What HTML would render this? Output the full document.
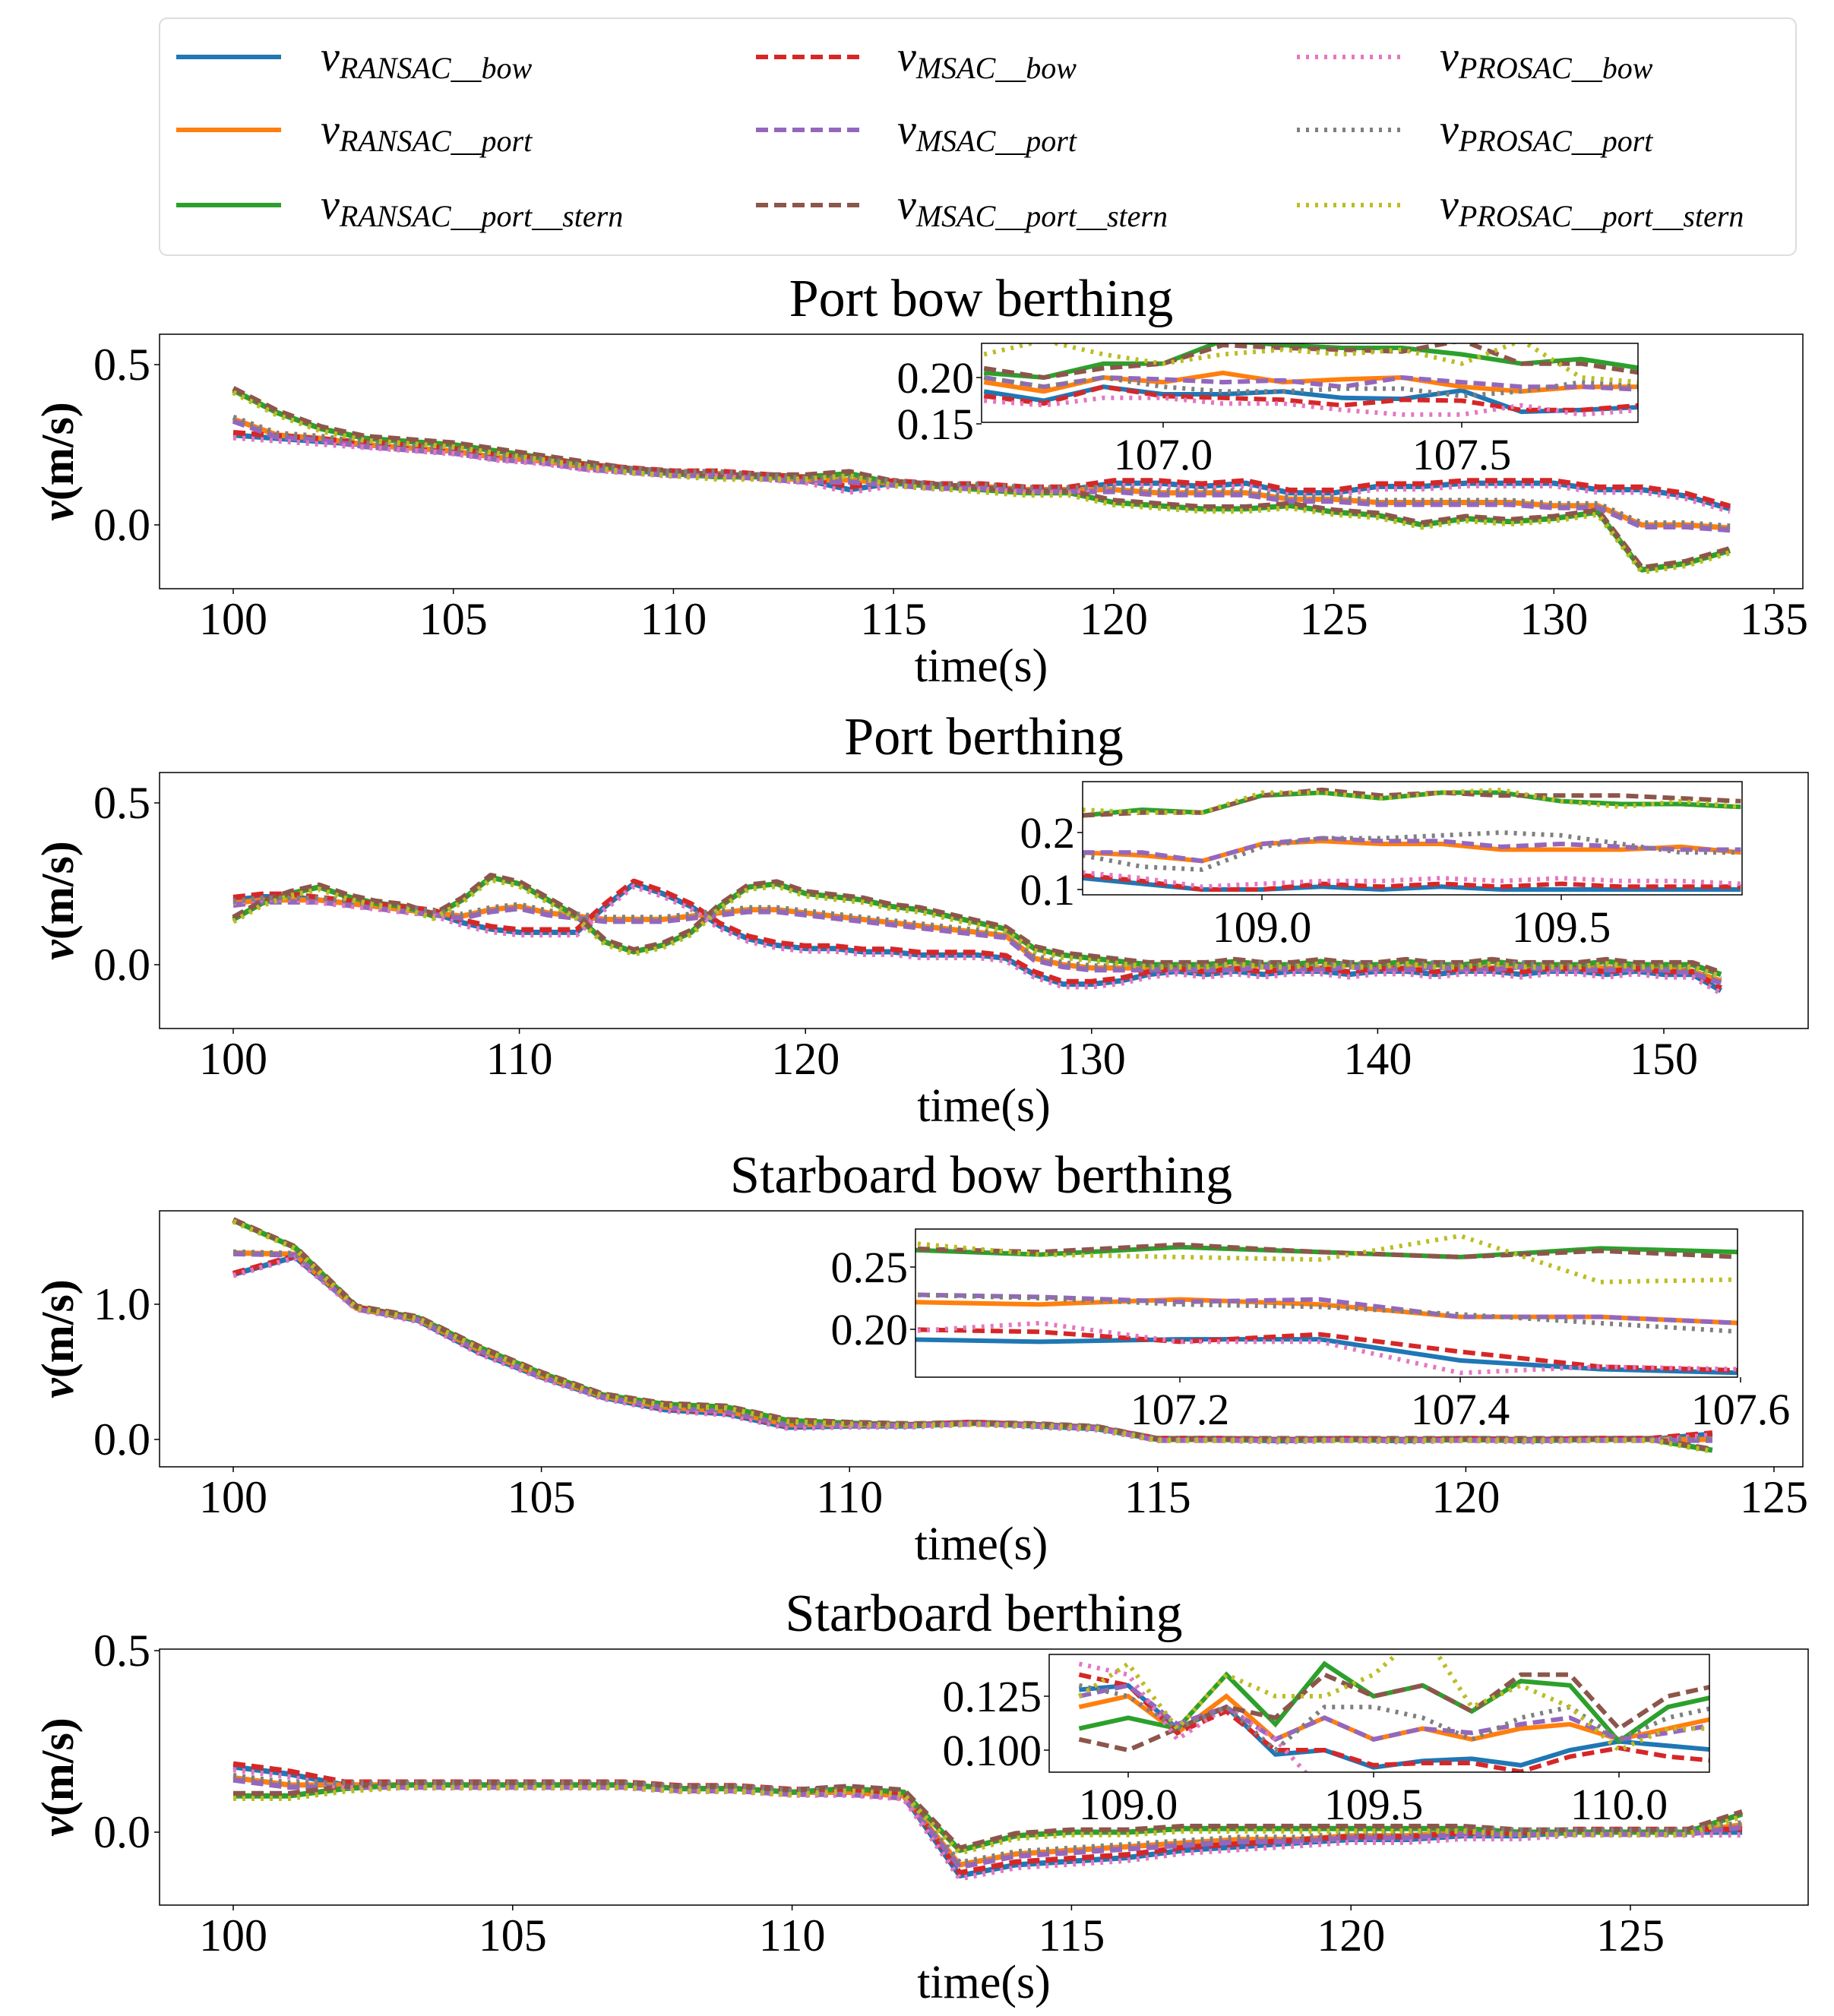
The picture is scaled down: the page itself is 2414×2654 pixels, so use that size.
<!DOCTYPE html>
<html><head><meta charset="utf-8">
<style>
html,body{margin:0;padding:0;background:#fff;}
svg{display:block;font-family:"Liberation Serif",serif;}
</style></head>
<body>
<svg id="fig" width="2414" height="2654" viewBox="0 0 2414 2654" xmlns="http://www.w3.org/2000/svg">
  <rect x="0" y="0" width="2414" height="2654" fill="#fff"/>
  <g>
    <rect x="210" y="24" width="2154" height="312" rx="10" fill="#fff" stroke="#dddddd" stroke-width="2"/>
  </g>
</svg>
<script>
// ---------- data ----------
const seriesNames = ["RANSAC_bow","RANSAC_port","RANSAC_port_stern","MSAC_bow","MSAC_port","MSAC_port_stern","PROSAC_bow","PROSAC_port","PROSAC_port_stern"];
const seriesColors = ["#1f77b4","#ff7f0e","#2ca02c","#d62728","#9467bd","#8c564b","#e377c2","#7f7f7f","#bcbd22"];
const seriesGroup = [0,1,2,0,1,2,0,1,2];
const seriesOffset = [0,0,0,0.008,-0.006,0.006,-0.008,0.006,-0.007];

const p1Start = 100, p1Step = 1;
const p1Bow = [0.28,0.27,0.26,0.25,0.24,0.23,0.21,0.20,0.18,0.17,0.16,0.16,0.15,0.14,0.11,0.13,0.12,0.12,0.11,0.11,0.13,0.13,0.12,0.13,0.10,0.10,0.12,0.12,0.13,0.13,0.13,0.11,0.11,0.09,0.05];
const p1Port = [0.33,0.28,0.27,0.25,0.24,0.23,0.21,0.20,0.18,0.17,0.16,0.16,0.15,0.14,0.14,0.13,0.12,0.12,0.11,0.11,0.11,0.10,0.10,0.10,0.08,0.08,0.07,0.07,0.07,0.07,0.06,0.06,0.00,0.00,-0.01];
const p1Stern = [0.42,0.35,0.30,0.27,0.26,0.25,0.23,0.21,0.19,0.17,0.16,0.15,0.15,0.15,0.16,0.13,0.12,0.11,0.10,0.10,0.07,0.06,0.05,0.05,0.06,0.04,0.03,0.00,0.02,0.01,0.02,0.04,-0.14,-0.12,-0.08];

const p2Start = 100, p2Step = 1;
const p2Bow = [0.20,0.21,0.21,0.20,0.19,0.18,0.17,0.16,0.13,0.11,0.10,0.10,0.10,0.18,0.25,0.22,0.18,0.12,0.08,0.06,0.05,0.05,0.04,0.04,0.03,0.03,0.03,0.02,-0.03,-0.06,-0.06,-0.05,-0.03,-0.02,-0.03,-0.02,-0.03,-0.02,-0.02,-0.03,-0.02,-0.02,-0.03,-0.02,-0.02,-0.03,-0.02,-0.02,-0.03,-0.02,-0.03,-0.03,-0.08];
const p2Port = [0.19,0.20,0.20,0.20,0.19,0.18,0.17,0.16,0.15,0.17,0.18,0.16,0.15,0.14,0.14,0.14,0.15,0.16,0.17,0.17,0.16,0.15,0.14,0.13,0.12,0.11,0.10,0.09,0.02,0.00,-0.01,-0.01,-0.01,-0.01,-0.01,-0.01,0.00,-0.01,-0.01,0.00,-0.01,-0.01,0.00,-0.01,-0.01,0.00,-0.01,-0.01,-0.01,-0.01,-0.01,-0.02,-0.05];
const p2Stern = [0.14,0.19,0.22,0.24,0.21,0.19,0.18,0.15,0.20,0.27,0.25,0.20,0.15,0.07,0.04,0.06,0.10,0.18,0.24,0.25,0.22,0.21,0.20,0.18,0.17,0.15,0.13,0.11,0.05,0.03,0.02,0.01,0.00,0.00,0.00,0.01,0.00,0.00,0.01,0.00,0.00,0.01,0.00,0.00,0.01,0.00,0.00,0.00,0.01,0.00,0.00,0.00,-0.03];

const p3Start = 100, p3Step = 1;
const p3Bow = [1.22,1.35,0.97,0.88,0.64,0.46,0.31,0.22,0.19,0.09,0.10,0.10,0.12,0.10,0.08,0.00,0.00,-0.01,0.00,-0.01,0.00,-0.01,0.00,0.00,0.04];
const p3Port = [1.38,1.37,0.97,0.89,0.66,0.47,0.32,0.24,0.21,0.11,0.11,0.11,0.12,0.11,0.09,0.00,0.00,0.00,0.00,0.00,0.00,0.00,0.00,0.00,0.00];
const p3Stern = [1.62,1.42,0.98,0.90,0.68,0.49,0.33,0.26,0.24,0.14,0.12,0.11,0.12,0.11,0.09,0.00,0.00,0.00,0.00,0.00,0.00,0.00,0.00,0.00,-0.08];

const p4Start = 100, p4Step = 1;
const p4Bow = [0.18,0.16,0.13,0.13,0.13,0.13,0.13,0.13,0.12,0.12,0.11,0.11,0.10,-0.12,-0.09,-0.08,-0.07,-0.05,-0.04,-0.03,-0.02,-0.02,-0.01,-0.01,0.00,0.00,0.00,0.00];
const p4Port = [0.15,0.13,0.13,0.13,0.13,0.13,0.13,0.13,0.12,0.12,0.11,0.11,0.10,-0.09,-0.06,-0.05,-0.04,-0.03,-0.02,-0.02,-0.01,-0.01,0.00,0.00,0.00,0.00,0.00,0.02];
const p4Stern = [0.10,0.10,0.12,0.13,0.13,0.13,0.13,0.13,0.12,0.12,0.11,0.12,0.11,-0.05,-0.01,0.00,0.00,0.01,0.01,0.01,0.01,0.01,0.01,0.00,0.00,0.00,0.00,0.05];

// inset data (one array per series, same order as seriesNames)
const in1Start = 106.7, in1Step = 0.1;
const in1Values = [
 [.185,.175,.19,.182,.182,.185,.178,.177,.186,.163,.165,.168],
 [.195,.185,.2,.195,.205,.195,.198,.2,.19,.185,.19,.19],
 [.205,.2,.215,.215,.24,.235,.232,.232,.225,.215,.22,.21],
 [.18,.172,.19,.18,.178,.176,.17,.176,.175,.165,.165,.17],
 [.2,.19,.2,.198,.195,.197,.19,.2,.195,.19,.19,.187],
 [.21,.2,.21,.215,.235,.232,.23,.228,.24,.215,.215,.205],
 [.175,.17,.178,.178,.172,.172,.165,.16,.16,.17,.16,.165],
 [.2,.19,.2,.19,.185,.185,.188,.188,.18,.185,.195,.19],
 [.225,.24,.225,.215,.225,.23,.225,.23,.215,.24,.2,.195]];
const in2Start = 108.7, in2Step = 0.1;
const in2Values = [
 [.12,.11,.1,.1,.105,.1,.105,.1,.1,.1,.1,.1],
 [.165,.16,.15,.18,.185,.18,.18,.17,.17,.17,.175,.165],
 [.23,.24,.235,.265,.27,.26,.27,.27,.255,.25,.25,.245],
 [.125,.115,.1,.1,.11,.105,.11,.105,.11,.105,.105,.105],
 [.165,.165,.15,.18,.19,.185,.185,.175,.18,.175,.17,.17],
 [.23,.235,.235,.265,.275,.265,.27,.265,.265,.265,.26,.255],
 [.13,.12,.105,.11,.115,.115,.12,.115,.12,.115,.115,.11],
 [.16,.14,.135,.175,.19,.19,.195,.2,.195,.18,.165,.165],
 [.24,.235,.235,.27,.27,.26,.27,.275,.255,.245,.255,.245]];
const in3Start = 107.0, in3Step = 0.1;
const in3Values = [
 [.192,.19,.192,.192,.175,.168,.165],
 [.222,.22,.224,.22,.21,.21,.205],
 [.264,.26,.266,.262,.258,.265,.262],
 [.2,.198,.19,.196,.182,.17,.167],
 [.228,.226,.222,.224,.21,.21,.205],
 [.265,.262,.268,.262,.258,.263,.258],
 [.198,.205,.19,.19,.165,.17,.168],
 [.228,.225,.22,.218,.212,.205,.198],
 [.27,.26,.258,.256,.275,.238,.24]];
const in4Start = 108.9, in4Step = 0.1;
const in4Values = [
 [.128,.13,.11,.12,.098,.1,.092,.095,.096,.093,.1,.104,.102,.1],
 [.12,.125,.108,.125,.105,.115,.105,.11,.105,.11,.112,.105,.11,.115],
 [.11,.115,.11,.135,.112,.14,.125,.13,.118,.132,.13,.104,.12,.125],
 [.135,.13,.108,.118,.1,.1,.093,.094,.094,.09,.097,.101,.097,.095],
 [.125,.13,.112,.12,.105,.115,.105,.11,.108,.112,.115,.105,.108,.112],
 [.105,.1,.11,.12,.115,.135,.125,.13,.118,.135,.135,.11,.125,.13],
 [.14,.135,.105,.12,.105,.08,.08,.08,.075,.07,.07,.08,.065,.06],
 [.13,.125,.11,.12,.1,.12,.12,.115,.105,.115,.12,.105,.115,.12],
 [.125,.14,.11,.135,.125,.125,.135,.155,.12,.13,.12,.1,.11,.11]];

const p1XTicks = [100,105,110,115,120,125,130,135];
const p2XTicks = [100,110,120,130,140,150];
const p3XTicks = [100,105,110,115,120,125];
const p4XTicks = [100,105,110,115,120,125];
const p1YTicks = ["0.0","0.5"];
const p3YTicks = ["0.0","1.0"];
const in1XTicks = ["107.0","107.5"], in1YTicks = ["0.15","0.20"];
const in2XTicks = ["109.0","109.5"], in2YTicks = ["0.1","0.2"];
const in3XTicks = ["107.2","107.4","107.6"], in3YTicks = ["0.20","0.25"];
const in4XTicks = ["109.0","109.5","110.0"], in4YTicks = ["0.100","0.125"];

// ---------- drawing ----------
const NS = "http://www.w3.org/2000/svg";
const svg = document.getElementById("fig");
function mk(tag, attrs, parent){const e=document.createElementNS(NS,tag);for(const k in attrs)e.setAttribute(k,attrs[k]);(parent||svg).appendChild(e);return e;}
const dashFor = i => i<3 ? null : (i<6 ? "16,8" : "4,8");

// legend
const legX=[232,995,1707], legTX=[422,1181,1895], legY=[75,171,270];
seriesNames.forEach((n,i)=>{
  const col=Math.floor(i/3), row=i%3;
  const g=mk("g",{});
  
  
  const ln=mk("line",{x1:legX[col],x2:legX[col]+138,y1:legY[row],y2:legY[row],stroke:seriesColors[i],"stroke-width":6},g);
  if(dashFor(i)) ln.setAttribute("stroke-dasharray",dashFor(i));
  const t=mk("text",{x:legTX[col],y:legY[row]+18,"font-size":56,"font-style":"italic",fill:"#000"},g);
  t.appendChild(document.createTextNode("v"));
  const s=mk("tspan",{"font-size":40,dy:10},t);
  s.textContent=n.replace(/_/g,"__");
});

function drawPanel(cfg){
  const g=mk("g",{});
  
  
  const X=v=>cfg.px0+(v-cfg.x0)*(cfg.px1-cfg.px0)/(cfg.x1-cfg.x0);
  const Y=v=>cfg.py0+(v-cfg.y0)*(cfg.py1-cfg.py0)/(cfg.y1-cfg.y0);
  const clipId="clip-"+cfg.name;
  const cp=mk("clipPath",{id:clipId},g);
  mk("rect",{x:cfg.ax,y:cfg.ay,width:cfg.aw,height:cfg.ah},cp);
  const t=mk("text",{x:cfg.ax+cfg.aw/2,y:cfg.ay-24,"font-size":70,"text-anchor":"middle"},g);
  
  
  t.textContent=cfg.title;
  const lines=mk("g",{"clip-path":"url(#"+clipId+")"},g);
  seriesNames.forEach((n,i)=>{
    const arr=cfg.groups[seriesGroup[i]];
    const pts=arr.map((v,k)=>X(cfg.start+k*cfg.step).toFixed(1)+","+Y(v+seriesOffset[i]).toFixed(1)).join(" ");
    const pl=mk("polyline",{points:pts,fill:"none",stroke:seriesColors[i],"stroke-width":7,"stroke-linejoin":"round"},lines);
    
    
    if(dashFor(i)) pl.setAttribute("stroke-dasharray",dashFor(i));
  });
  mk("rect",{x:cfg.ax,y:cfg.ay,width:cfg.aw,height:cfg.ah,fill:"none",stroke:"#000","stroke-width":1.5},g);
  cfg.xticks.forEach(v=>{
    const x=X(v);
    mk("line",{x1:x,x2:x,y1:cfg.ay+cfg.ah,y2:cfg.ay+cfg.ah+7,stroke:"#000","stroke-width":1.5},g);
    const tl=mk("text",{x:x,y:cfg.ay+cfg.ah+60,"font-size":60,"text-anchor":"middle"},g);
    
    
    tl.textContent=v;
  });
  cfg.yticks.forEach(s=>{
    const y=Y(parseFloat(s));
    mk("line",{x1:cfg.ax-7,x2:cfg.ax,y1:y,y2:y,stroke:"#000","stroke-width":1.5},g);
    const tl=mk("text",{x:cfg.ax-12,y:y+20,"font-size":60,"text-anchor":"end"},g);
    
    
    tl.textContent=s;
  });
  const xl=mk("text",{x:cfg.ax+cfg.aw/2,y:cfg.ay+cfg.ah+122,"font-size":62,"text-anchor":"middle"},g);
  
  
  xl.textContent="time(s)";
  const cy=cfg.ay+cfg.ah/2;
  const yl=mk("text",{x:96,y:cy,"font-size":60,"font-weight":"bold","text-anchor":"middle",transform:"rotate(-90 96 "+cy+")"},g);
  
  
  const yv=mk("tspan",{"font-style":"italic"},yl); yv.textContent="v";
  const yr=mk("tspan",{},yl); yr.textContent="(m/s)";
  drawInset(g,cfg.inset);
}

function drawInset(parent,c){
  const g=mk("g",{},parent);
  
  
  const X=v=>c.px0+(v-c.x0)*(c.px1-c.px0)/(c.x1-c.x0);
  const Y=v=>c.py0+(v-c.y0)*(c.py1-c.py0)/(c.y1-c.y0);
  mk("rect",{x:c.ax,y:c.ay,width:c.aw,height:c.ah,fill:"#fff"},g);
  const id="clip-"+c.id;
  const cp=mk("clipPath",{id:id},g);
  mk("rect",{x:c.ax,y:c.ay,width:c.aw,height:c.ah},cp);
  const lines=mk("g",{"clip-path":"url(#"+id+")"},g);
  seriesNames.forEach((n,i)=>{
    const pts=c.values[i].map((v,k)=>X(c.start+k*c.step).toFixed(1)+","+Y(v).toFixed(1)).join(" ");
    const pl=mk("polyline",{points:pts,fill:"none",stroke:seriesColors[i],"stroke-width":6,"stroke-linejoin":"miter"},lines);
    
    
    if(dashFor(i)) pl.setAttribute("stroke-dasharray",dashFor(i));
  });
  mk("rect",{x:c.ax,y:c.ay,width:c.aw,height:c.ah,fill:"none",stroke:"#000","stroke-width":1.5},g);
  c.xticks.forEach(s=>{
    const x=X(parseFloat(s));
    mk("line",{x1:x,x2:x,y1:c.ay+c.ah,y2:c.ay+c.ah+7,stroke:"#000","stroke-width":1.5},g);
    const tl=mk("text",{x:x,y:c.ay+c.ah+62,"font-size":58,"text-anchor":"middle"},g);
    
    
    tl.textContent=s;
  });
  c.yticks.forEach(s=>{
    const y=Y(parseFloat(s));
    mk("line",{x1:c.ax-7,x2:c.ax,y1:y,y2:y,stroke:"#000","stroke-width":1.5},g);
    const tl=mk("text",{x:c.ax-10,y:y+20,"font-size":58,"text-anchor":"end"},g);
    
    
    tl.textContent=s;
  });
}

drawPanel({name:"panel-port-bow",title:"Port bow berthing",ax:210,ay:440,aw:2163,ah:335,
  px0:307,px1:2335,x0:100,x1:135,py0:691,py1:480,y0:0,y1:0.5,
  start:p1Start,step:p1Step,groups:[p1Bow,p1Port,p1Stern],xticks:p1XTicks,yticks:p1YTicks,
  inset:{id:"in1",ax:1292,ay:452,aw:864,ah:104,px0:1531,px1:1924,x0:107,x1:107.5,py0:497,py1:558,y0:0.20,y1:0.15,
    start:in1Start,step:in1Step,values:in1Values,xticks:in1XTicks,yticks:in1YTicks}});
drawPanel({name:"panel-port",title:"Port berthing",ax:210,ay:1017,aw:2170,ah:337,
  px0:307,px1:2190,x0:100,x1:150,py0:1270,py1:1057,y0:0,y1:0.5,
  start:p2Start,step:p2Step,groups:[p2Bow,p2Port,p2Stern],xticks:p2XTicks,yticks:p1YTicks,
  inset:{id:"in2",ax:1425,ay:1029,aw:868,ah:149,px0:1661,px1:2055,x0:109,x1:109.5,py0:1171,py1:1096,y0:0.1,y1:0.2,
    start:in2Start,step:in2Step,values:in2Values,xticks:in2XTicks,yticks:in2YTicks}});
drawPanel({name:"panel-starboard-bow",title:"Starboard bow berthing",ax:210,ay:1594,aw:2163,ah:337,
  px0:307,px1:2335,x0:100,x1:125,py0:1895,py1:1717,y0:0,y1:1.0,
  start:p3Start,step:p3Step,groups:[p3Bow,p3Port,p3Stern],xticks:p3XTicks,yticks:p3YTicks,
  inset:{id:"in3",ax:1205,ay:1618,aw:1082,ah:195,px0:1553,px1:1922,x0:107.2,x1:107.4,py0:1750,py1:1668,y0:0.20,y1:0.25,
    start:in3Start,step:in3Step,values:in3Values,xticks:in3XTicks,yticks:in3YTicks}});
drawPanel({name:"panel-starboard",title:"Starboard berthing",ax:210,ay:2171,aw:2170,ah:337,
  px0:307,px1:2146,x0:100,x1:125,py0:2412,py1:2173,y0:0,y1:0.5,
  start:p4Start,step:p4Step,groups:[p4Bow,p4Port,p4Stern],xticks:p4XTicks,yticks:p1YTicks,
  inset:{id:"in4",ax:1381,ay:2178,aw:869,ah:155,px0:1485,px1:1808,x0:109,x1:109.5,py0:2304,py1:2233,y0:0.100,y1:0.125,
    start:in4Start,step:in4Step,values:in4Values,xticks:in4XTicks,yticks:in4YTicks}});
</script>
</body></html>
